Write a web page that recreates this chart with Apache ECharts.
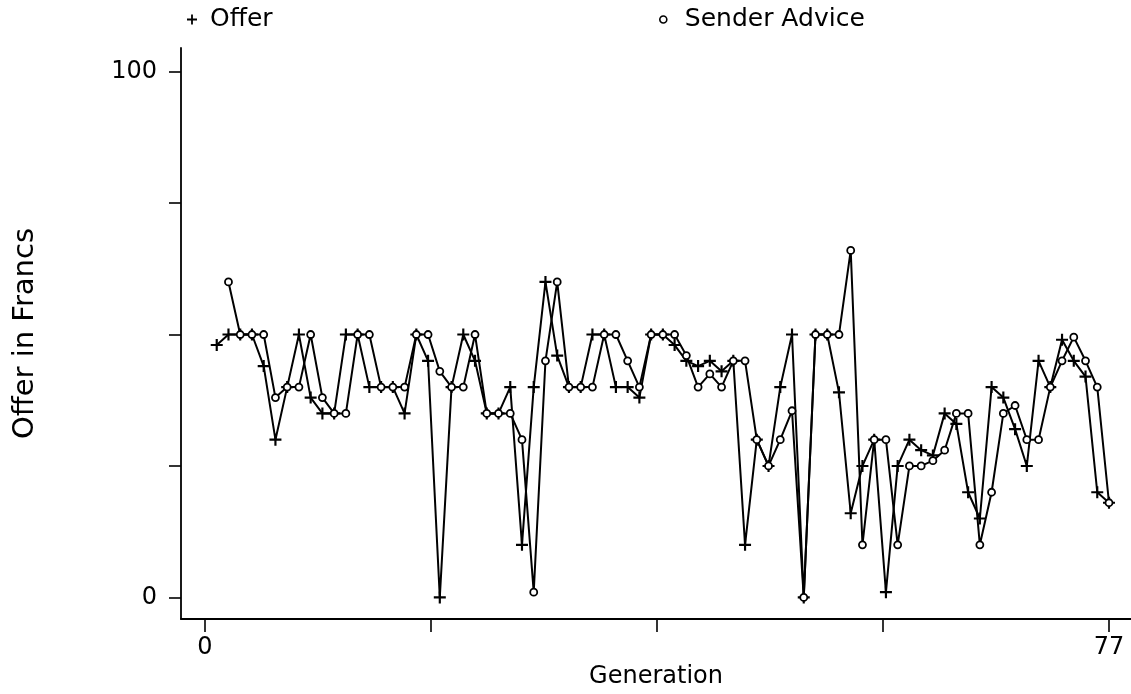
<!DOCTYPE html>
<html>
<head>
<meta charset="utf-8">
<script src="https://cdn.jsdelivr.net/npm/echarts@6/dist/echarts.min.js"></script>
<style>
html,body{margin:0;padding:0;background:#fff;overflow:hidden;}
#chart{width:1131px;height:694px;}
</style>
</head>
<body>
<div id="chart"></div>
<script>
// Generations 1..77
const generations = Array.from({length: 77}, (_, i) => i + 1);
const offer = [48,50,50,50,44,30,40,50,38,35, 35,50,50,40,40,40,35,50,45,0,
               40,50,45,35,35,40,10,40,60,46, 40,40,50,50,40,40,38,50,50,48,
               45,44,45,43,45,10,30,25,40,50, 0,50,50,39,16,25,30,1,25,30,
               28,27,35,33,20,15,40,38,32,25, 45,40,49,45,42,20,18];
const advice = [null,60,50,50,50,38,40,40,50,38, 35,35,50,50,40,40,40,50,50,43,
                40,40,50,35,35,35,30,1,45,60, 40,40,40,50,50,45,40,50,50,50,
                46,40,42.5,40,45,45,30,25,30,35.5, 0,50,50,50,66,10,30,30,10,25,
                25,26,28,35,35,10,20,35,36.5,30, 30,40,45,49.5,45,40,18];
const xTicks = [0, 19.25, 38.5, 57.75, 77];
const xTickLabels = [0, 77];
const yTicks = [0, 25, 50, 75, 100];
const yTickLabels = [0, 100];

const FONT = 'DejaVu Sans';
const plusPath = 'path://M4.1,0H5.9V4.1H10V5.9H5.9V10H4.1V5.9H0V4.1H4.1Z';

const chart = echarts.init(document.getElementById('chart'), null, {renderer: 'canvas'});
chart.setOption({
  animation: false,
  backgroundColor: '#fff',
  grid: {left: 181, right: 0, top: 48, bottom: 67, containLabel: false},
  legend: [
    {
      data: [{name: 'Offer', icon: plusPath}],
      left: 187, top: 7, padding: 0, itemWidth: 10, itemHeight: 10,
      selectedMode: false,
      itemStyle: {color: '#000', borderWidth: 0},
      textStyle: {fontFamily: FONT, fontSize: 25, color: '#000', padding: [0, 0, 0, 8]}
    },
    {
      data: [{name: 'Sender Advice', icon: 'circle'}],
      left: 659, top: 7, padding: 0, itemWidth: 7, itemHeight: 7,
      selectedMode: false,
      itemStyle: {color: '#fff', borderColor: '#000', borderWidth: 1.6},
      textStyle: {fontFamily: FONT, fontSize: 25, color: '#000', padding: [0, 0, 0, 13]}
    }
  ],
  xAxis: {
    type: 'value',
    min: -2.044, max: 78.874,
    name: 'Generation', nameLocation: 'middle', nameGap: 38,
    nameTextStyle: {fontFamily: FONT, fontSize: 24, color: '#000'},
    axisLine: {show: true, onZero: false, lineStyle: {color: '#000', width: 1.8}},
    axisTick: {show: true, length: 13, lineStyle: {color: '#000', width: 1.6}, customValues: xTicks},
    axisLabel: {fontFamily: FONT, fontSize: 24, color: '#000', margin: 17, customValues: xTickLabels},
    splitLine: {show: false}
  },
  yAxis: {
    type: 'value',
    min: -4.13, max: 104.5,
    name: 'Offer in Francs', nameLocation: 'middle', nameGap: 141, nameRotate: 90,
    nameTextStyle: {fontFamily: FONT, fontSize: 29, color: '#000'},
    axisLine: {show: true, onZero: false, lineStyle: {color: '#000', width: 1.8}},
    axisTick: {show: true, length: 12, lineStyle: {color: '#000', width: 1.6}, customValues: yTicks},
    axisLabel: {fontFamily: FONT, fontSize: 24, color: '#000', margin: 24, customValues: yTickLabels},
    splitLine: {show: false}
  },
  series: [
    {
      name: 'Offer', type: 'line',
      data: generations.map((g, i) => [g, offer[i]]),
      symbol: plusPath, symbolSize: 12, showAllSymbol: true,
      itemStyle: {color: '#000', borderWidth: 0},
      lineStyle: {color: '#000', width: 2},
      z: 2
    },
    {
      name: 'Sender Advice', type: 'line',
      data: generations.map((g, i) => [g, advice[i]]),
      symbol: 'circle', symbolSize: 7, showAllSymbol: true,
      itemStyle: {color: '#fff', borderColor: '#000', borderWidth: 1.8},
      lineStyle: {color: '#000', width: 2},
      connectNulls: false,
      z: 3
    }
  ]
});
</script>
</body>
</html>
